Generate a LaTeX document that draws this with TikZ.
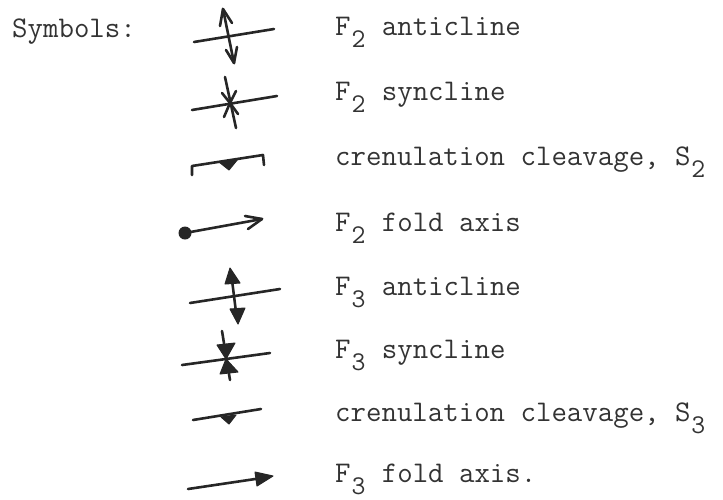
\documentclass[tikz,border=0pt]{standalone}
\usetikzlibrary{arrows.meta}
\newcommand{\lowsub}[1]{\raisebox{-12pt}{\makebox[15.75pt]{\fontsize{27}{27}\selectfont #1}}}
\begin{document}
\begin{tikzpicture}[x=1pt,y=-1pt,
  sym/.style={line width=2.6pt,draw=black!85,line cap=round,line join=round},
  solid fill/.style={fill=black!85,draw=black!85,line width=1pt,line join=round},
  label/.style={anchor=base west,inner sep=0pt,font=\fontsize{30}{30}\selectfont\ttfamily,text=black!80}]
\useasboundingbox (0,0) rectangle (723,499);
\node[label] (title) at (12,37) {Symbols:};
\node[label] (t1) at (335,35) {F\lowsub{2} anticline};
\node[label] (t2) at (335,100) {F\lowsub{2} syncline};
\node[label] (t3) at (335,165) {crenulation cleavage, S\lowsub{2}};
\node[label] (t4) at (335,231) {F\lowsub{2} fold axis};
\node[label] (t5) at (335,295) {F\lowsub{3} anticline};
\node[label] (t6) at (335,358) {F\lowsub{3} syncline};
\node[label] (t7) at (335,421) {crenulation cleavage, S\lowsub{3}};
\node[label] (t8) at (335,482) {F\lowsub{3} fold axis.};
% row 1: F2 anticline
\draw[sym] (194,42) -- (274,29);
\draw[sym] (223,9) -- (234,63);
\draw[sym] (220,26) -- (223,9) -- (232,23);
\draw[sym] (226,50) -- (234,63) -- (237,47);
% row 2: F2 syncline
\draw[sym] (192,110) -- (277,96);
\draw[sym] (225,77) -- (236,128);
\draw[sym] (222,93) -- (230,103) -- (236,91);
\draw[sym] (224,117) -- (230,103) -- (238,114);
% row 3: crenulation cleavage S2
\draw[sym] (192,175) -- (192,166) -- (263,155) -- (264,165);
\fill[solid fill] (219,162) -- (238,159) -- (229,170) -- cycle;
% row 4: F2 fold axis
\fill[black!85] (185,233) circle (6.5);
\draw[sym] (185,233) -- (262,219);
\draw[sym] (245,216) -- (262,219) -- (248,229);
% row 5: F3 anticline
\draw[sym] (190,303) -- (280,289);
\draw[sym] (232,280) -- (236,312);
\fill[solid fill] (230,268) -- (240,283) -- (225,284) -- cycle;
\fill[solid fill] (230,309) -- (245,308) -- (238,324) -- cycle;
% row 6: F3 syncline
\draw[sym] (182,365) -- (270,353);
\draw[sym] (222,331) -- (230,380);
\fill[solid fill] (217,345) -- (235,343) -- (226,359) -- cycle;
\fill[solid fill] (226,359) -- (238,372) -- (220,374) -- cycle;
% row 7: crenulation cleavage S3
\draw[sym] (193,420) -- (261,409);
\fill[solid fill] (221,417) -- (236,415) -- (229,424) -- cycle;
% row 8: F3 fold axis
\draw[sym] (188,489) -- (262,478);
\fill[solid fill] (273,476) -- (255,472) -- (257,486) -- cycle;
\end{tikzpicture}
\end{document}
